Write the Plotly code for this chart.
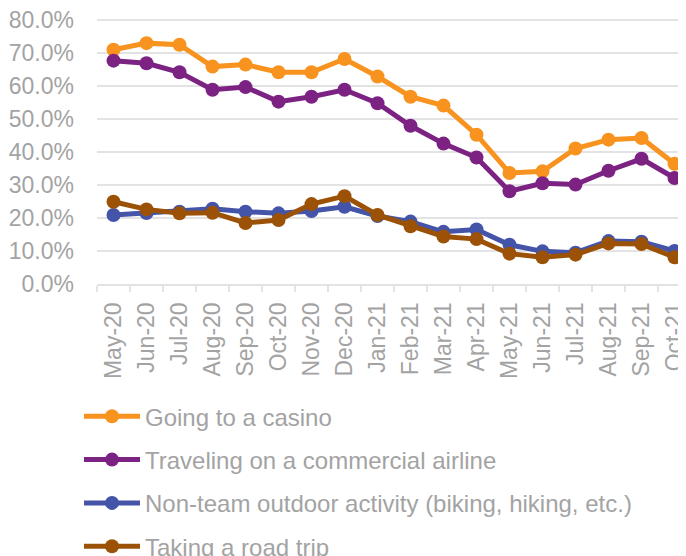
import plotly.graph_objects as go

months = ["May-20", "Jun-20", "Jul-20", "Aug-20", "Sep-20", "Oct-20", "Nov-20", "Dec-20",
          "Jan-21", "Feb-21", "Mar-21", "Apr-21", "May-21", "Jun-21", "Jul-21", "Aug-21",
          "Sep-21", "Oct-21"]

casino = [71.0, 73.0, 72.5, 65.9, 66.5, 64.2, 64.2, 68.2, 62.9, 56.8, 54.1, 45.3,
          33.7, 34.2, 41.1, 43.8, 44.3, 36.5]
airline = [67.7, 66.9, 64.2, 58.9, 59.7, 55.3, 56.8, 58.9, 54.8, 48.0, 42.6, 38.4,
           28.2, 30.6, 30.2, 34.4, 38.0, 32.2]
outdoor = [21.0, 21.6, 22.0, 22.9, 22.0, 21.5, 22.2, 23.5, 20.7, 19.0, 15.9, 16.6,
           12.0, 10.0, 9.6, 13.1, 12.9, 10.1]
roadtrip = [25.0, 22.7, 21.5, 21.7, 18.6, 19.5, 24.3, 26.7, 21.0, 17.6, 14.5, 13.7,
            9.3, 8.2, 9.0, 12.4, 12.2, 8.2]

series_names = ["Going to a casino", "Traveling on a commercial airline",
                "Non-team outdoor activity (biking, hiking, etc.)", "Taking a road trip"]
series_values = [casino, airline, outdoor, roadtrip]
colors = ["#F7931E", "#7B2283", "#4454A8", "#9C5206"]

FONT = "Liberation Sans, Arial, sans-serif"
TXT = "#A3A3A3"
GRID = "#E3E3E3"

fig = go.Figure()
legend_ids = ["legend", "legend2", "legend3", "legend4"]
for name, vals, col, lg in zip(series_names, series_values, colors, legend_ids):
    fig.add_trace(go.Scatter(
        x=months, y=[v / 100 for v in vals], name=name, mode="lines+markers",
        line=dict(color=col, width=5), marker=dict(color=col, size=14),
        legend=lg,
    ))

# page body has an 8px margin: figure coordinates = window coordinates - 8
OFF = 8
W, H = 683, 590
y_top_val = 0.806                      # a little headroom above the 80% gridline
px_per_unit = (284.4 - 20) / 0.8       # reference: 0% at y=284.4, 80% at y=20
plot_bottom = 284.4 - OFF
plot_top = plot_bottom - y_top_val * px_per_unit
plot_left = 97 - OFF
centers_px = [c - OFF for c in (416.7, 460.0, 503.3, 546.6)]
layout_legends = {}
for lg, cy in zip(legend_ids, centers_px):
    layout_legends[lg] = dict(
        x=(79 - OFF) / W, xanchor="left", y=1 - cy / H, yanchor="middle",
        font=dict(family=FONT, size=24, color=TXT), itemwidth=56,
        bgcolor="rgba(0,0,0,0)", borderwidth=0, itemclick=False,
    )

fig.update_layout(
    width=W, height=H,
    margin=dict(l=0, r=0, t=0, b=0, pad=0),
    paper_bgcolor="white", plot_bgcolor="white",
    font=dict(family=FONT, size=23, color=TXT),
    showlegend=True,
    xaxis=dict(
        type="category", range=[-0.5, 17.5], showgrid=False,
        domain=[plot_left / W, 1],
        showline=True, linecolor=GRID, linewidth=1.5,
        ticks="outside", tickson="boundaries", ticklen=6, tickcolor=GRID, tickwidth=1.5,
        tickangle=-90, tickfont=dict(family=FONT, size=23, color=TXT),
        ticklabelstandoff=7, fixedrange=True, automargin=False,
    ),
    yaxis=dict(
        range=[0, y_top_val], tickvals=[0, 0.1, 0.2, 0.3, 0.4, 0.5, 0.6, 0.7, 0.8],
        domain=[1 - plot_bottom / H, 1 - plot_top / H],
        tickformat=".1%", showgrid=True, gridcolor=GRID, gridwidth=1.5,
        zeroline=False, showline=False, ticks="",
        tickfont=dict(family=FONT, size=23, color=TXT),
        ticklabelstandoff=22, ticklabeloverflow="allow",
        fixedrange=True, automargin=False,
    ),
    **layout_legends,
)

fig.write_html("out.html")
